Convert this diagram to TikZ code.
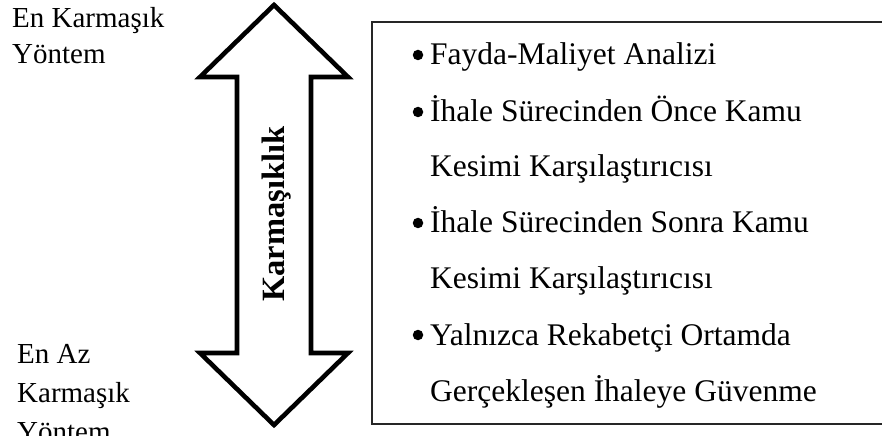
\documentclass[tikz,border=0pt]{standalone}
\usepackage{fontspec}
\setmainfont{Liberation Serif}
\begin{document}
\begin{tikzpicture}[x=1pt,y=-1pt,
  sidelabel/.style={anchor=base west,inner sep=0pt,font=\fontsize{29}{35}\selectfont},
  itemtext/.style={anchor=base west,inner sep=0pt,font=\fontsize{31.5}{38}\selectfont},
  bulletmark/.style={circle,fill=black,inner sep=0pt,minimum size=10.5pt},
  bigarrow/.style={draw=black,line width=4.6pt,miter limit=10,fill=white}]
\useasboundingbox (0,0) rectangle (882,443);

% double-headed block arrow
\draw[bigarrow] (274,5) -- (348,77) -- (311,77) -- (311,353) -- (348,353)
  -- (274,425) -- (200,353) -- (237,353) -- (237,77) -- (200,77) -- cycle;
\node[rotate=90,inner sep=0pt,font=\fontsize{32.5}{39}\bfseries\selectfont] (axis) at (277,214) {Karmaşıklık};

% end labels
\node[sidelabel] (top1) at (12,28) {En Karmaşık};
\node[sidelabel] (top2) at (12,64) {Yöntem};
\node[sidelabel] (bot1) at (17,363) {En Az};
\node[sidelabel] (bot2) at (17,402) {Karmaşık};
\begin{scope}
  \clip (0,0) rectangle (882,435);
  \node[sidelabel] (bot3) at (17,441) {Yöntem};
\end{scope}

% list of methods
\draw[line width=1.3pt,draw=black!85] (885,22) -- (372,22) -- (372,424) -- (885,424);
\node[bulletmark] (b1) at (418,55) {};
\node[itemtext] (i1) at (430,65) {Fayda-Maliyet Analizi};
\node[bulletmark] (b2) at (418,112) {};
\node[itemtext] (i2) at (430,122) {İhale Sürecinden Önce Kamu};
\node[itemtext] (i2b) at (430,177) {Kesimi Karşılaştırıcısı};
\node[bulletmark] (b3) at (418,223) {};
\node[itemtext] (i3) at (430,233) {İhale Sürecinden Sonra Kamu};
\node[itemtext] (i3b) at (430,288) {Kesimi Karşılaştırıcısı};
\node[bulletmark] (b4) at (418,335) {};
\node[itemtext] (i4) at (430,345) {Yalnızca Rekabetçi Ortamda};
\node[itemtext] (i4b) at (430,401) {Gerçekleşen İhaleye Güvenme};
\end{tikzpicture}
\end{document}
